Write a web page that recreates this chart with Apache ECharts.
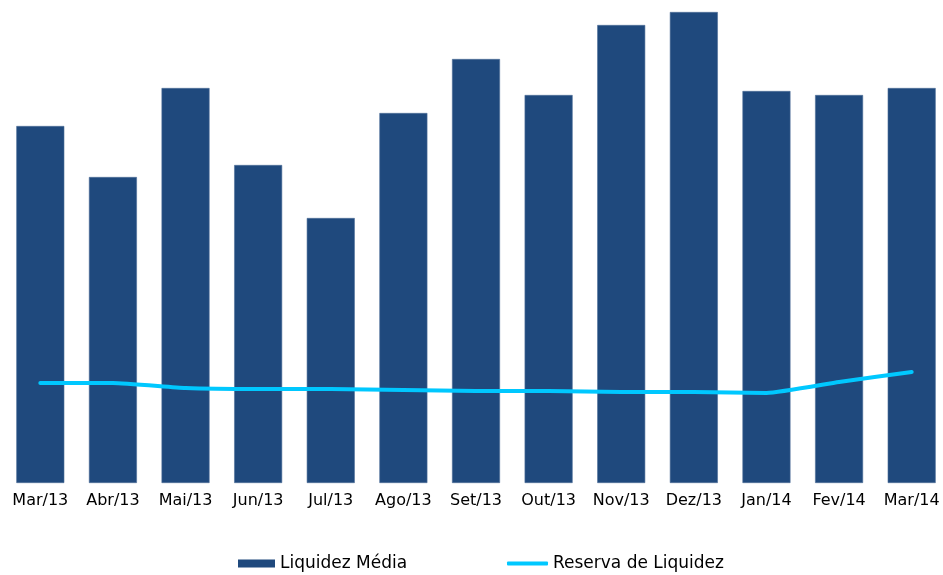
<!DOCTYPE html>
<html>
<head>
<meta charset="utf-8">
<script src="https://cdn.jsdelivr.net/npm/echarts@6/dist/echarts.min.js"></script>
<style>
  html, body { margin: 0; padding: 0; background: #ffffff; overflow: hidden; }
  #liquidezChart { width: 948px; height: 575px; }
</style>
</head>
<body>
<div id="liquidezChart"></div>
<script>
// meses
var meses = ['Mar/13', 'Abr/13', 'Mai/13', 'Jun/13', 'Jul/13', 'Ago/13', 'Set/13',
             'Out/13', 'Nov/13', 'Dez/13', 'Jan/14', 'Fev/14', 'Mar/14'];
// Liquidez Média (barras)
var liquidezMedia = [357, 306, 395, 318, 265, 370, 424, 388, 458, 471, 392, 388, 395];
// Reserva de Liquidez (linha)
var reservaLiquidez = [100, 100, 95, 94, 94, 93, 92, 92, 91, 91, 90, 101, 111];

var liquidezChart = echarts.init(document.getElementById('liquidezChart'));
var fonte = 'DejaVu Sans';

var option = {
    animation : false,
    backgroundColor : '#ffffff',
    textStyle : {
        fontFamily : fonte,
        color : '#000000'
    },
    legend : [{
        left : 238,
        top : 555,
        padding : 0,
        itemWidth : 37,
        itemHeight : 8,
        itemGap : 0,
        itemStyle : { borderWidth : 0 },
        textStyle : { fontSize : 17, color : '#000000', fontFamily : fonte },
        data : [{ name : 'Liquidez Média', icon : 'rect' }]
    }, {
        left : 507,
        top : 555,
        padding : 0,
        itemWidth : 41,
        itemHeight : 4,
        itemGap : 0,
        itemStyle : { borderWidth : 0 },
        textStyle : { fontSize : 17, color : '#000000', fontFamily : fonte },
        data : [{ name : 'Reserva de Liquidez', icon : 'roundRect' }]
    }],
    grid : {
        left : 4,
        top : 12,
        right : 0,
        height : 471,
        containLabel : false
    },
    xAxis : {
        type : 'category',
        data : meses,
        axisLine : { show : false },
        axisTick : { show : false },
        axisLabel : {
            margin : 10,
            fontSize : 16,
            color : '#000000',
            fontFamily : fonte,
            interval : 0
        }
    },
    yAxis : {
        type : 'value',
        min : 0,
        max : 471,
        show : false,
        splitLine : { show : false }
    },
    series : [{
        name : 'Liquidez Média',
        type : 'bar',
        data : liquidezMedia,
        barWidth : 48,
        itemStyle : {
            color : '#1F497D',
            borderColor : '#4F6F98',
            borderWidth : 0.6
        }
    }, {
        name : 'Reserva de Liquidez',
        type : 'line',
        data : reservaLiquidez,
        smooth : 0.15,
        symbol : 'none',
        lineStyle : {
            color : '#00C8FF',
            width : 4,
            cap : 'round'
        },
        itemStyle : { color : '#00C8FF' }
    }]
};

liquidezChart.setOption(option);
</script>
</body>
</html>
